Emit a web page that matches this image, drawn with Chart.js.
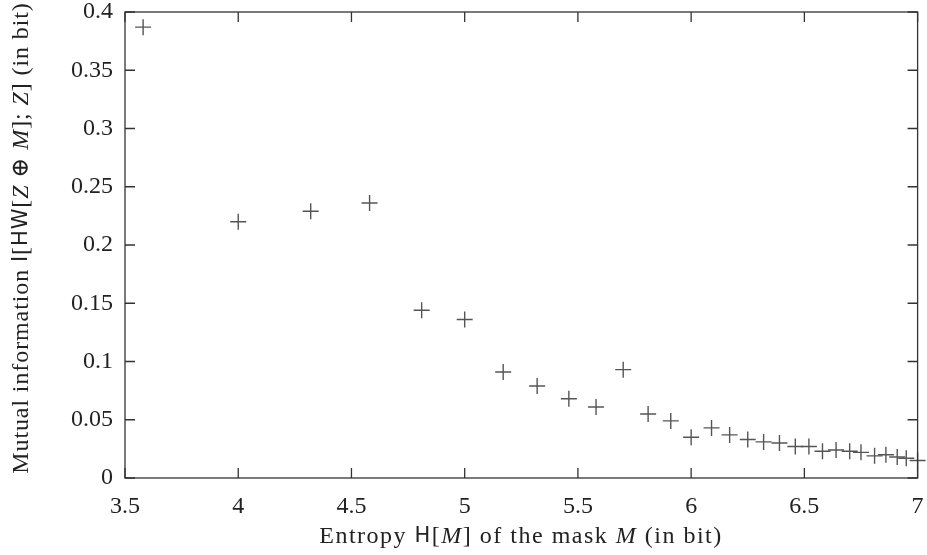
<!DOCTYPE html>
<html>
<head>
<meta charset="utf-8">
<script src="https://cdn.jsdelivr.net/npm/chart.js@4/dist/chart.umd.min.js"></script>
<style>
  html, body { margin: 0; padding: 0; background: #fff; }
  #wrap { width: 927px; height: 555px; }
</style>
</head>
<body>
<div id="wrap"><canvas id="miChart"></canvas></div>
<script>
// values
const entropy = [3.58, 4.0, 4.32, 4.58, 4.81, 5.0, 5.17, 5.32, 5.46, 5.58, 5.70, 5.81, 5.91, 6.0, 6.09,
                 6.17, 6.25, 6.32, 6.39, 6.46, 6.52, 6.58, 6.64, 6.70, 6.75, 6.81, 6.86, 6.91, 6.95, 7.0];
const mutualInfo = [0.387, 0.220, 0.229, 0.236, 0.144, 0.136, 0.091, 0.079, 0.068, 0.061, 0.093, 0.055, 0.049, 0.035, 0.043,
                    0.037, 0.033, 0.031, 0.030, 0.027, 0.027, 0.023, 0.024, 0.023, 0.022, 0.019, 0.020, 0.018, 0.017, 0.015];
const xTicks = [3.5, 4, 4.5, 5, 5.5, 6, 6.5, 7];
const xTickLabels = ['3.5', '4', '4.5', '5', '5.5', '6', '6.5', '7'];
const yTicks = [0, 0.05, 0.1, 0.15, 0.2, 0.25, 0.3, 0.35, 0.4];
const yTickLabels = ['0', '0.05', '0.1', '0.15', '0.2', '0.25', '0.3', '0.35', '0.4'];

const SERIF = '"Liberation Serif", "DejaVu Serif", serif';
const SANS = '"DejaVu Sans", "Liberation Sans", sans-serif';
const FS = 24;
const TEXT = '#222';

// axis titles mix fonts, so they are drawn as segments
const xTitle = [
  { t: 'Entropy ', f: 'serif' }, { t: 'H', f: 'sans' }, { t: '[', f: 'serif' }, { t: 'M', f: 'it' },
  { t: '] of the mask ', f: 'serif' }, { t: 'M', f: 'it' }, { t: ' (in bit)', f: 'serif' }
];
const yTitle = [
  { t: 'Mutual information ', f: 'serif' }, { t: 'I', f: 'sans' }, { t: '[', f: 'serif' }, { t: 'HW', f: 'sans' },
  { t: '[', f: 'serif' }, { t: 'Z', f: 'it' }, { t: ' \u2295 ', f: 'serif' }, { t: 'M', f: 'it' },
  { t: ']; ', f: 'serif' }, { t: 'Z', f: 'it' }, { t: '] (in bit)', f: 'serif' }
];

function segFont(f) {
  if (f === 'sans') return (FS - 3) + 'px ' + SANS;
  if (f === 'it') return 'italic ' + FS + 'px ' + SERIF;
  return FS + 'px ' + SERIF;
}

function drawSegments(ctx, segs, cx, cy, spacing) {
  ctx.letterSpacing = spacing + 'px';
  let total = 0;
  segs.forEach(s => { ctx.font = segFont(s.f); total += ctx.measureText(s.t).width; });
  let x = cx - total / 2;
  ctx.textBaseline = 'middle';
  ctx.textAlign = 'left';
  segs.forEach(s => {
    ctx.font = segFont(s.f);
    ctx.fillText(s.t, x, cy);
    x += ctx.measureText(s.t).width;
  });
  ctx.letterSpacing = '0px';
}

// labels may overflow the plot edges, as in the reference
function noOverflow(s) {
  s.paddingTop = 0; s.paddingBottom = 0; s.paddingLeft = 0; s.paddingRight = 0;
}

const framePlugin = {
  id: 'frame',
  afterDraw(chart) {
    const ctx = chart.ctx;
    const a = chart.chartArea;
    const xs = chart.scales.x, ys = chart.scales.y;
    const len = 10;
    ctx.save();
    ctx.strokeStyle = '#333';
    ctx.lineWidth = 1.3;
    ctx.strokeRect(a.left, a.top, a.right - a.left, a.bottom - a.top);
    ctx.beginPath();
    xTicks.forEach(v => {
      const px = xs.getPixelForValue(v);
      ctx.moveTo(px, a.bottom); ctx.lineTo(px, a.bottom - len);
      ctx.moveTo(px, a.top); ctx.lineTo(px, a.top + len);
    });
    yTicks.forEach(v => {
      const py = ys.getPixelForValue(v);
      ctx.moveTo(a.left, py); ctx.lineTo(a.left + len, py);
      ctx.moveTo(a.right, py); ctx.lineTo(a.right - len, py);
    });
    ctx.stroke();

    ctx.fillStyle = TEXT;
    drawSegments(ctx, xTitle, 521, 537, 1.5);
    ctx.translate(22, 238);
    ctx.rotate(-Math.PI / 2);
    drawSegments(ctx, yTitle, 0, 0, 0.9);
    ctx.restore();
  }
};

const ctx = document.getElementById('miChart').getContext('2d');
const miChart = new Chart(ctx, {
  type: 'scatter',
  data: {
    datasets: [{
      label: 'I',
      data: entropy.map((e, i) => ({ x: e, y: mutualInfo[i] })),
      pointStyle: 'cross',
      pointRadius: 8,
      pointBorderWidth: 1.4,
      borderColor: '#555',
      backgroundColor: '#555',
      clip: false
    }]
  },
  options: {
    responsive: true,
    maintainAspectRatio: false,
    animation: false,
    layout: { padding: { top: 12, right: 7, left: 0, bottom: 0 } },
    plugins: {
      legend: { display: false },
      tooltip: { enabled: false }
    },
    scales: {
      x: {
        type: 'linear',
        min: 3.5,
        max: 7,
        afterBuildTicks: s => { s.ticks = xTicks.map(v => ({ value: v })); },
        afterFit: s => { s.height = 77; noOverflow(s); },
        grid: { display: false, drawTicks: false },
        border: { display: false },
        ticks: {
          padding: 17,
          color: TEXT,
          font: { family: SERIF, size: FS, lineHeight: 1.0 },
          maxRotation: 0,
          callback: (v, i) => xTickLabels[i]
        }
      },
      y: {
        type: 'linear',
        min: 0,
        max: 0.4,
        afterBuildTicks: s => { s.ticks = yTicks.map(v => ({ value: v })); },
        afterFit: s => { s.width = 125; noOverflow(s); },
        grid: { display: false, drawTicks: false },
        border: { display: false },
        ticks: {
          padding: 12,
          color: TEXT,
          font: { family: SERIF, size: FS, lineHeight: 1.0 },
          callback: (v, i) => yTickLabels[i]
        }
      }
    }
  },
  plugins: [framePlugin]
});
</script>
</body>
</html>
